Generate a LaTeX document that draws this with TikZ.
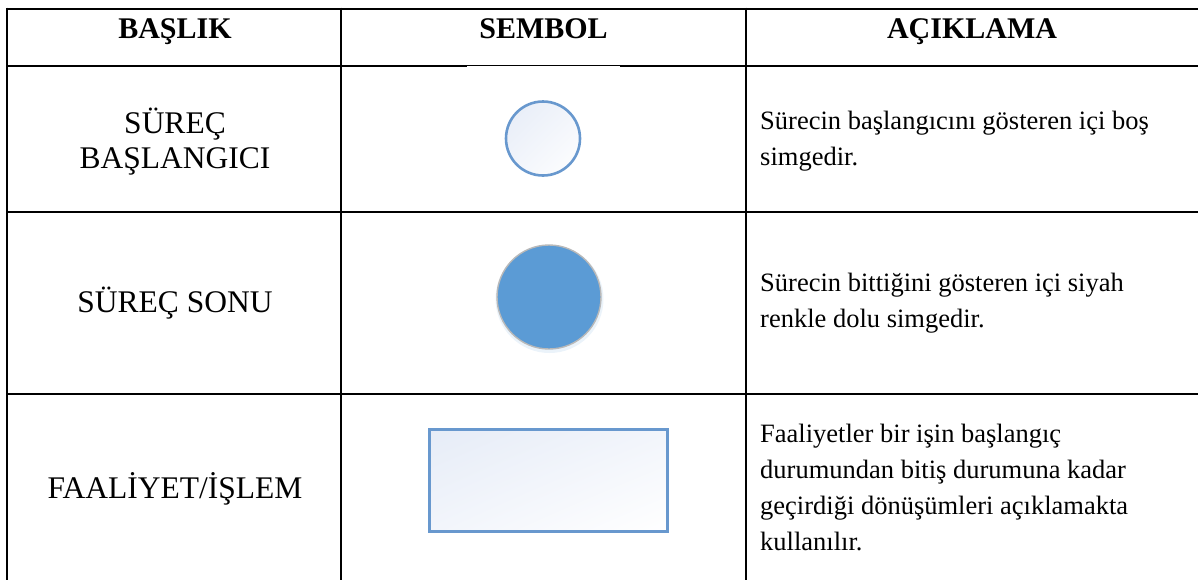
\documentclass[tikz,border=0pt]{standalone}
\usepackage{fontspec}
\setmainfont{Liberation Serif}
\usetikzlibrary{shadings}
\definecolor{symfill}{RGB}{91,155,213}
\definecolor{symline}{RGB}{104,152,206}
\definecolor{paleblue}{RGB}{230,236,247}
\definecolor{paleblue2}{RGB}{242,245,251}
\tikzset{
  rule/.style={line width=2pt, black},
  thinrule/.style={line width=1pt, black},
  headtxt/.style={anchor=base, inner sep=0pt, font=\fontsize{30}{36}\selectfont\bfseries},
  titletxt/.style={anchor=base, inner sep=0pt, align=center, font=\fontsize{31.5}{35}\selectfont},
  desctxt/.style={anchor=base west, inner sep=0pt, align=left, font=\fontsize{26.5}{36}\selectfont},
}
\begin{document}
\begin{tikzpicture}[x=1pt,y=-1pt]
\useasboundingbox (0,0) rectangle (1198,579);
% table rules
\draw[rule] (7.3,8.5) -- (1200,8.5);
\draw[rule] (7.3,65.5) -- (467,65.5);
\draw[thinrule] (467,65.5) -- (620,65.5);
\draw[rule] (620,65.5) -- (1200,65.5);
\draw[rule] (7.3,212) -- (1200,212);
\draw[rule] (7.3,394) -- (1200,394);
\draw[rule] (7.3,7.5) -- (7.3,585);
\draw[rule] (341,7.5) -- (341,585);
\draw[rule] (746,7.5) -- (746,585);
% header
\node[headtxt] (h1) at (175,38.5) {BAŞLIK};
\node[headtxt] (h2) at (543.5,38.5) {SEMBOL};
\node[headtxt] (h3) at (972,38.5) {AÇIKLAMA};
% titles
\node[titletxt] (t1a) at (175,133) {SÜREÇ};
\node[titletxt] (t1b) at (175,168) {BAŞLANGICI};
\node[titletxt] (t2) at (175,312) {SÜREÇ SONU};
\node[titletxt] (t3) at (175,498) {FAALİYET/İŞLEM};
% symbols
\node (s1) [circle, minimum size=74pt, inner sep=0pt, draw=symline, line width=2.6pt,
  upper left=paleblue, upper right=paleblue2, lower left=paleblue2, lower right=white] at (543,138.5) {};
\node (s2shadow) [circle, minimum size=108pt, inner sep=0pt, fill=symfill!12] at (549.5,299) {};
\node (s2) [circle, minimum size=104pt, inner sep=0pt, fill=symfill, draw=gray!55, line width=1.4pt] at (549,297) {};
\node (s3) [rectangle, minimum width=238pt, minimum height=102pt, inner sep=0pt, draw=symline, line width=2.8pt,
  upper left=paleblue, upper right=paleblue2, lower left=paleblue2, lower right=white] at (548.5,480.5) {};
% descriptions (base anchor = baseline of the last line)
\node[desctxt] (d1) at (760,165) {Sürecin başlangıcını gösteren içi boş\\simgedir.};
\node[desctxt] (d2) at (760,327.7) {Sürecin bittiğini gösteren içi siyah\\renkle dolu simgedir.};
\node[desctxt] (d3) at (760,550) {Faaliyetler bir işin başlangıç\\durumundan bitiş durumuna kadar\\geçirdiği dönüşümleri açıklamakta\\kullanılır.};
\end{tikzpicture}
\end{document}
